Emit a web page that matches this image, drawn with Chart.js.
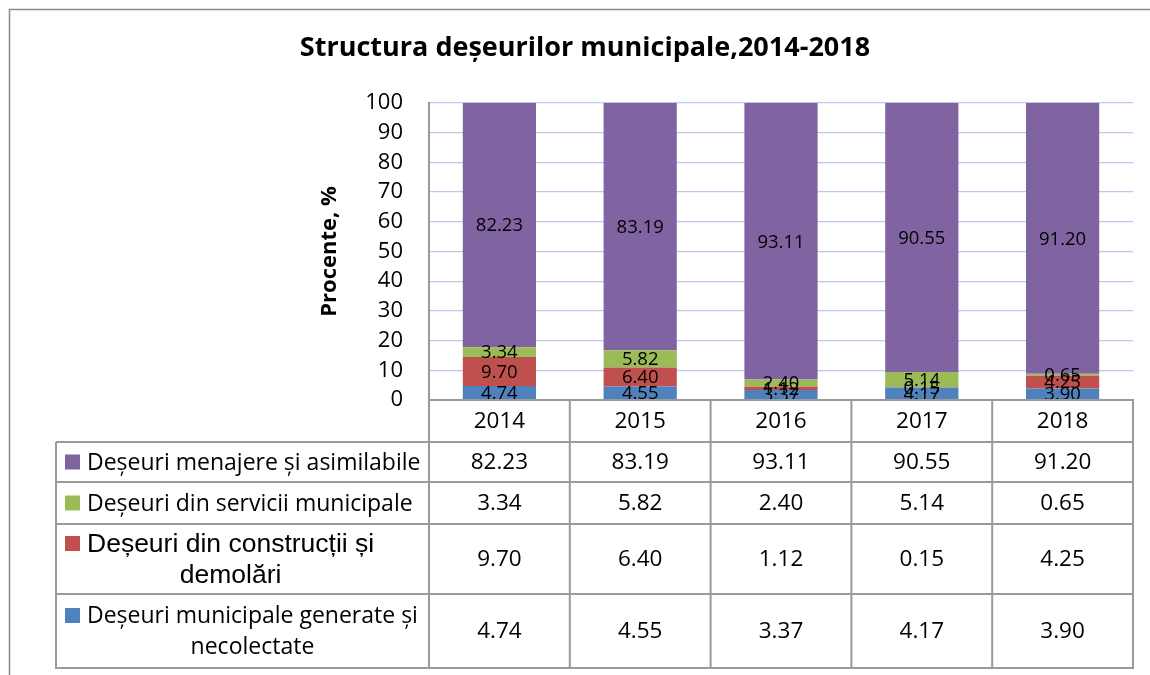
<!DOCTYPE html>
<html>
<head>
<meta charset="utf-8">
<script src="https://cdn.jsdelivr.net/npm/chart.js@4.4.1/dist/chart.umd.min.js"></script>
<style>
html,body{margin:0;padding:0;background:#fff;}
#wrap{width:1150px;height:675px;position:relative;}
</style>
</head>
<body>
<div id="wrap"><canvas id="c"></canvas></div>
<script>
// ---------- data ----------
const chartTitle = 'Structura deșeurilor municipale,2014-2018';
const yAxisTitle = 'Procente, %';
const years = ['2014', '2015', '2016', '2017', '2018'];
const yMin = 0, yMax = 100, yStep = 10;

// series (stack order: bottom to top)
const necolectate = [4.74, 4.55, 3.37, 4.17, 3.90];
const constructii = [9.70, 6.40, 1.12, 0.15, 4.25];
const servicii    = [3.34, 5.82, 2.40, 5.14, 0.65];
const menajere    = [82.23, 83.19, 93.11, 90.55, 91.20];

const nameNecolectate = 'Deșeuri municipale generate și\nnecolectate';
const nameConstructii = 'Deșeuri din construcții și\ndemolări';
const nameServicii    = 'Deșeuri din servicii municipale';
const nameMenajere    = 'Deșeuri menajere și asimilabile';

const colNecolectate = '#4f81bd';
const colConstructii = '#c0504d';
const colServicii    = '#9bbb59';
const colMenajere    = '#8064a2';

// ---------- plugins ----------
const FONT = 'Open Sans';

const frameBg = {
  id: 'frameBg',
  beforeDraw(chart) {
    const ctx = chart.ctx;
    ctx.save();
    ctx.fillStyle = '#fff';
    ctx.fillRect(0, 0, chart.width, chart.height);
    ctx.strokeStyle = '#8a8a8a';
    ctx.lineWidth = 1.5;
    ctx.beginPath();
    ctx.moveTo(9.5, chart.height);
    ctx.lineTo(9.5, 9.5);
    ctx.lineTo(chart.width, 9.5);
    ctx.stroke();
    ctx.restore();
  }
};

const barLabels = {
  id: 'barLabels',
  afterDatasetsDraw(chart) {
    const ctx = chart.ctx;
    ctx.save();
    ctx.font = '18.5px "' + FONT + '"';
    ctx.fillStyle = '#000';
    ctx.textAlign = 'center';
    ctx.textBaseline = 'middle';
    chart.data.datasets.forEach((ds, i) => {
      const meta = chart.getDatasetMeta(i);
      meta.data.forEach((el, j) => {
        const p = el.getCenterPoint();
        ctx.fillText(ds.data[j].toFixed(2), p.x, p.y + 1);
      });
    });
    ctx.restore();
  }
};

const dataTable = {
  id: 'dataTable',
  afterDraw(chart) {
    const ctx = chart.ctx;
    const xs = chart.scales.x;
    const area = chart.chartArea;
    const n = years.length;
    const bounds = [area.left];
    for (let i = 0; i < n - 1; i++) {
      bounds.push((xs.getPixelForValue(i) + xs.getPixelForValue(i + 1)) / 2);
    }
    bounds.push(area.right);
    const legendLeft = 56;
    const rowH = [42, 40, 42, 70, 74];
    const ys = [area.bottom];
    rowH.forEach(h => ys.push(ys[ys.length - 1] + h));
    const bottom = ys[ys.length - 1];

    ctx.save();
    ctx.strokeStyle = '#9a9a9a';
    ctx.lineWidth = 2;
    ys.forEach((y, k) => {
      ctx.beginPath();
      ctx.moveTo(k === 0 ? area.left : legendLeft, y);
      ctx.lineTo(area.right + 1, y);
      ctx.stroke();
    });
    bounds.forEach((b, k) => {
      ctx.beginPath();
      ctx.moveTo(b, k === 0 ? area.top : ys[0]);
      ctx.lineTo(b, bottom + 1);
      ctx.stroke();
    });
    ctx.beginPath();
    ctx.moveTo(legendLeft, ys[1]);
    ctx.lineTo(legendLeft, bottom + 1);
    ctx.stroke();

    // year row
    ctx.fillStyle = '#000';
    ctx.textAlign = 'center';
    ctx.textBaseline = 'middle';
    ctx.font = '22.5px "' + FONT + '"';
    years.forEach((y, i) => {
      ctx.fillText(y, xs.getPixelForValue(i), (ys[0] + ys[1]) / 2 + 1);
    });

    // series rows (top of stack first)
    const rows = chart.data.datasets.slice().reverse();
    rows.forEach((ds, r) => {
      const y0 = ys[r + 1], y1 = ys[r + 2];
      const cy = (y0 + y1) / 2;
      ctx.font = '22.5px "' + FONT + '"';
      ctx.textAlign = 'center';
      ds.data.forEach((v, i) => {
        ctx.fillText(v.toFixed(2), xs.getPixelForValue(i), cy + 1);
      });
      // legend cell
      const lines = ds.label.split('\n');
      const lh = 31;
      const labelFont = ds.tableFont || ('23px "' + FONT + '"');
      ctx.font = labelFont;
      const firstY = cy - (lines.length - 1) * lh / 2;
      ctx.fillStyle = ds.backgroundColor;
      ctx.fillRect(65, firstY - 7.5, 15, 15);
      ctx.fillStyle = '#000';
      ctx.textAlign = 'left';
      const w1 = ctx.measureText(lines[0]).width;
      ctx.fillText(lines[0], 87, firstY + 1);
      ctx.textAlign = 'center';
      for (let k = 1; k < lines.length; k++) {
        ctx.fillText(lines[k], 87 + w1 / 2, firstY + k * lh + 1);
      }
    });
    ctx.restore();
  }
};

// ---------- chart ----------
new Chart(document.getElementById('c'), {
  type: 'bar',
  data: {
    labels: years,
    datasets: [
      { label: nameNecolectate, data: necolectate, backgroundColor: colNecolectate },
      { label: nameConstructii, data: constructii, backgroundColor: colConstructii, tableFont: '26.5px "Liberation Sans"' },
      { label: nameServicii, data: servicii, backgroundColor: colServicii },
      { label: nameMenajere, data: menajere, backgroundColor: colMenajere }
    ]
  },
  options: {
    responsive: true,
    maintainAspectRatio: false,
    animation: false,
    datasets: { bar: { barPercentage: 0.52, categoryPercentage: 1.0, borderWidth: 0 } },
    layout: { padding: { left: 37, right: 17, top: 0, bottom: 275 } },
    plugins: {
      legend: { display: false },
      tooltip: { enabled: false },
      title: {
        display: true,
        text: chartTitle,
        color: '#000',
        font: { family: FONT, size: 27, weight: 'bold' },
        padding: { top: 31.8, bottom: 38.8 }
      }
    },
    scales: {
      x: {
        stacked: true,
        display: false
      },
      y: {
        stacked: true,
        min: yMin,
        max: yMax,
        ticks: {
          stepSize: yStep,
          color: '#000',
          padding: 26,
          font: { family: FONT, size: 22 }
        },
        grid: { color: '#b9cbe9', lineWidth: 1.3, drawTicks: false },
        border: { color: '#9a9a9a', width: 2 },
        title: {
          display: true,
          text: yAxisTitle,
          color: '#000',
          font: { family: FONT, size: 22, weight: 'bold' },
          padding: { top: 280, bottom: 0 }
        },
        afterFit(scale) { scale.width = 392; }
      }
    }
  },
  plugins: [frameBg, barLabels, dataTable]
});
</script>
</body>
</html>
